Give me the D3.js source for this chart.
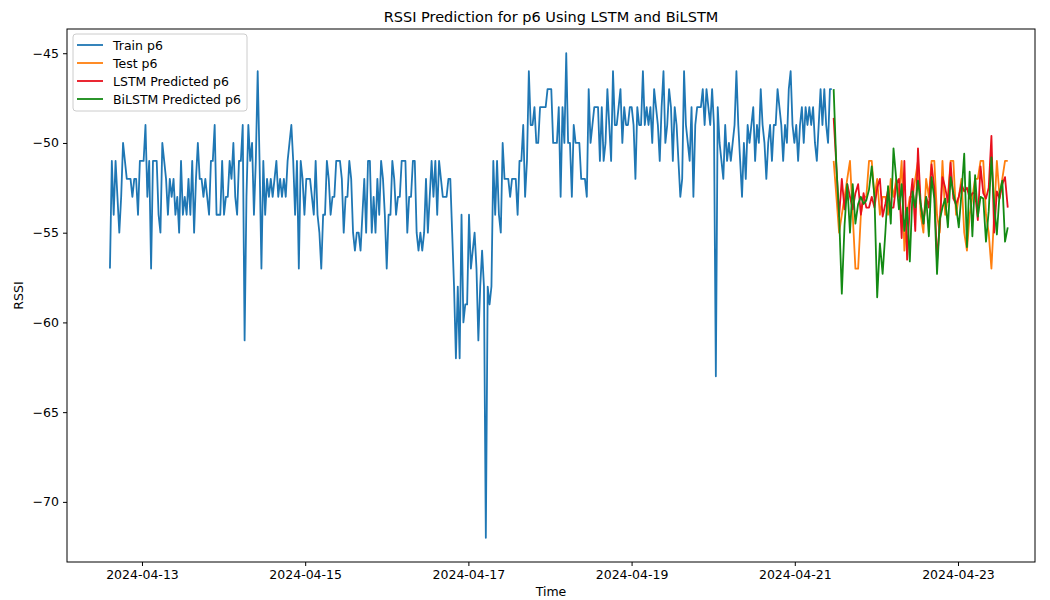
<!DOCTYPE html>
<html>
<head>
<meta charset="utf-8">
<script src="https://cdn.jsdelivr.net/npm/d3@7"></script>
<style>
  body { margin: 0; background: #fff; }
  text { font-family: "DejaVu Sans", sans-serif; fill: #000; }
</style>
</head>
<body>
<svg id="chart" width="1050" height="600"></svg>
<script>
// RSSI readings for p6 (dBm), training part, sampled every 33 minutes
const trainValues = [
  -57,-51,-54,-51,-53,-55,-53,-50,-51,-52,-52,-52,-53,-52,-52,-54,-51,-51,-51,-49,-53,-51,-57,-51,-51,-51,-54,-55,-50,-51,-52,-54,-52,-53,-52,-54,-53,-55,-51,-54,-53,-54,-52,-54,-51,-55,-52,-50,
  -52,-52,-53,-52,-53,-54,-51,-51,-49,-54,-54,-54,-51,-54,-53,-53,-51,-52,-50,-53,-54,-51,-51,-49,-61,-53,-49,-51,-50,-54,-51,-46,-51,-57,-51,-54,-52,-53,-52,-53,-52,-51,-53,-52,-53,-52,-53,-51,-50,-49,-51,-54,-51,-57,-51,
  -52,-54,-52,-52,-52,-53,-54,-51,-54,-55,-57,-54,-54,-51,-52,-54,-53,-53,-51,-51,-51,-52,-55,-53,-53,-51,-52,-55,-56,-55,-55,-56,-54,-52,-55,-51,-51,-55,-53,-55,-52,-54,-51,-52,-54,-57,-54,-54,-51,-52,-54,-53,-53,-51,
  -51,-51,-55,-53,-53,-51,-51,-55,-56,-55,-56,-55,-52,-55,-53,-51,-53,-51,-54,-51,-52,-53,-53,-53,-52,-52,-55,-58,-62,-58,-62,-54,-60,-59,-59,-54,-57,-56,-55,-57,-61,-58,-56,-58,-72,-58,-59,-58,-51,-54,-51,
  -54,-55,-50,-52,-52,-52,-53,-52,-52,-52,-54,-51,-51,-49,-53,-51,-46,-49,-49,-48,-50,-50,-48,-48,-48,-48,-47,-47,-47,-50,-50,-50,-48,-53,-48,-50,-45,-50,-50,-53,-49,-50,-50,-50,-52,-52,-52,-53,-47,-50,-49,-48,-48,-48,
  -51,-48,-51,-50,-47,-49,-51,-46,-49,-49,-48,-47,-50,-48,-49,-49,-48,-48,-49,-52,-48,-49,-49,-46,-49,-48,-49,-48,-50,-47,-48,-49,-51,-48,-46,-50,-49,-47,-48,-51,-48,-49,-51,-53,-52,-46,-49,-50,-51,-48,-53,-49,-48,-48,
  -48,-47,-49,-47,-48,-49,-47,-49,-63,-48,-50,-51,-52,-49,-51,-50,-51,-50,-49,-46,-49,-51,-53,-50,-52,-49,-50,-49,-48,-51,-49,-50,-47,-49,-50,-52,-50,-49,-51,-49,-49,-47,-48,-49,-51,-49,-50,-47,-46,-49,-50,-49,-51,-49,
  -48,-50,-48,-49,-48,-49,-48,-50,-51,-49,-47,-49,-47,-49,-50,-47,-47
];

// Held-out test readings (dBm), sampled every 48 minutes
const testValues = [
  -51,-53,-55,-54,-53,-52,-51,-54,-57,-57,-54,-53,-53,-51,-51,-53,-52,-54,-53,-53,
  -54,-52,-53,-52,-53,-51,-56,-54,-53,-53,-52,-51,-54,-55,-52,-53,-51,-51,-54,-55,
  -51,-54,-53,-51,-51,-54,-53,-52,-55,-56,-54,-53,-52,-52,-51,-51,-54,-55,-57,-54,
  -51,-53,-52,-51,-51
];

// LSTM predictions on the test timestamps
const lstmPred = [
  -48.6,-51.3,-54.1,-52,-53.7,-52.3,-53,-53.7,-52.8,-52.3,-54,-52.8,-53.6,-53.6,-53,-53.6,-52.5,-52,-54.1,-53.4,
  -52.6,-53.6,-53.6,-52.3,-52,-55.3,-51,-56.5,-53.4,-52,-54.9,-50.3,-53.4,-54.5,-53,-53.6,-51.2,-52.5,-56.6,-54.5,
  -51.9,-52.5,-53.3,-51.1,-53.1,-53.4,-53,-52.3,-52.7,-52.5,-53.1,-52.8,-52.8,-54.3,-51.3,-52.8,-53.1,-52.5,-49.6,-55,
  -52.7,-53.1,-52.3,-51.9,-53.6
];

// BiLSTM predictions on the test timestamps
const bilstmPred = [
  -47,-51.3,-54,-58.4,-54.6,-52.3,-55,-52.3,-54.5,-53.4,-53,-53.4,-53.2,-52.6,-51.3,-53,-58.6,-55.6,-57.3,-55,
  -52.4,-54.5,-50.3,-52,-53.7,-52.3,-54.9,-53.6,-56.6,-52.7,-53.6,-52.1,-53.4,-54.5,-53,-55.2,-51.9,-53.1,-57.3,-54.3,
  -53.6,-53.1,-54.7,-51.9,-52.8,-53.5,-54.7,-52.8,-50.6,-55.8,-51.6,-55.2,-51.8,-54.1,-53,-53.1,-55.5,-53.8,-50.8,-53.4,
  -55.1,-52.8,-52.1,-55.5,-54.7
];

const yTickValues = [-70, -65, -60, -55, -50, -45];
const xTickLabels = ["2024-04-13", "2024-04-15", "2024-04-17", "2024-04-19", "2024-04-21", "2024-04-23"];

const trainStart = "2024-04-12 14:35";
const trainStepMin = 33;
const testStepMin = 48;
const xDomainLabels = ["2024-04-12 01:57", "2024-04-23 22:39"];
const yDomain = [-73.35, -43.65];

const seriesNames = ["Train p6", "Test p6", "LSTM Predicted p6", "BiLSTM Predicted p6"];
const seriesColors = ["#1f77b4", "#ff7f0e", "#e8101c", "#138a13"];

// ---- build time stamps ----
const parseTime = d3.timeParse("%Y-%m-%d %H:%M");
const parseDay = d3.timeParse("%Y-%m-%d");
const t0 = parseTime(trainStart);
const trainData = trainValues.map((v, i) => ({ t: d3.timeMinute.offset(t0, i * trainStepMin), v }));
const testT0 = d3.timeMinute.offset(trainData[trainData.length - 1].t, trainStepMin);
const testTimes = testValues.map((_, i) => d3.timeMinute.offset(testT0, i * testStepMin));
const testData = testValues.map((v, i) => ({ t: testTimes[i], v }));
const lstmData = lstmPred.map((v, i) => ({ t: testTimes[i], v }));
const bilstmData = bilstmPred.map((v, i) => ({ t: testTimes[i], v }));

// ---- layout ----
const W = 1050, H = 600;
const margin = { left: 67, right: 15, top: 29, bottom: 38 };
const innerW = W - margin.left - margin.right;
const innerH = H - margin.top - margin.bottom;

const svg = d3.select("#chart");
const g = svg.append("g").attr("transform", `translate(${margin.left},${margin.top})`);

const x = d3.scaleTime().domain(xDomainLabels.map(parseTime)).range([0, innerW]);
const y = d3.scaleLinear().domain(yDomain).range([innerH, 0]);

g.append("clipPath").attr("id", "plot-clip")
  .append("rect").attr("width", innerW).attr("height", innerH);

const line = d3.line().x(d => x(d.t)).y(d => y(d.v));

const plot = g.append("g").attr("clip-path", "url(#plot-clip)");
[trainData, testData, lstmData, bilstmData].forEach((data, i) => {
  plot.append("path")
    .datum(data)
    .attr("fill", "none")
    .attr("stroke", seriesColors[i])
    .attr("stroke-width", 1.8)
    .attr("stroke-linejoin", "round")
    .attr("d", line);
});

// ---- axes ----
const fmtY = d3.format("d");
const yAxis = d3.axisLeft(y).tickValues(yTickValues).tickFormat(fmtY).tickSize(4).tickPadding(4);
const xAxis = d3.axisBottom(x).tickValues(xTickLabels.map(parseDay))
  .tickFormat(d3.timeFormat("%Y-%m-%d")).tickSize(4).tickPadding(4);

const gy = g.append("g").call(yAxis);
const gx = g.append("g").attr("transform", `translate(0,${innerH})`).call(xAxis);
[gx, gy].forEach(a => {
  a.select(".domain").remove();
  a.selectAll(".tick line").attr("stroke", "#000").attr("stroke-width", 1);
  a.selectAll(".tick text").style("font-size", "12.5px").attr("fill", "#000");
});

// frame (all four spines)
g.append("rect")
  .attr("x", 0).attr("y", 0).attr("width", innerW).attr("height", innerH)
  .attr("fill", "none").attr("stroke", "#000").attr("stroke-width", 1);

// ---- labels ----
svg.append("text")
  .attr("x", margin.left + innerW / 2).attr("y", 22)
  .attr("text-anchor", "middle").style("font-size", "14.5px")
  .text("RSSI Prediction for p6 Using LSTM and BiLSTM");

svg.append("text")
  .attr("x", margin.left + innerW / 2).attr("y", 596)
  .attr("text-anchor", "middle").style("font-size", "12.5px")
  .text("Time");

svg.append("text")
  .attr("transform", `translate(23,${margin.top + innerH / 2}) rotate(-90)`)
  .attr("text-anchor", "middle").style("font-size", "12.5px")
  .text("RSSI");

// ---- legend ----
const lg = svg.append("g").attr("transform", "translate(73,34)");
lg.append("rect")
  .attr("width", 174).attr("height", 77).attr("rx", 3)
  .attr("fill", "#fff").attr("fill-opacity", 0.8)
  .attr("stroke", "#cccccc").attr("stroke-width", 1);
seriesNames.forEach((name, i) => {
  const yy = 11 + i * 18;
  lg.append("line").attr("x1", 4).attr("x2", 30).attr("y1", yy).attr("y2", yy)
    .attr("stroke", seriesColors[i]).attr("stroke-width", 1.8);
  lg.append("text").attr("x", 40).attr("y", yy + 4.5)
    .style("font-size", "12.5px").text(name);
});
</script>
</body>
</html>
